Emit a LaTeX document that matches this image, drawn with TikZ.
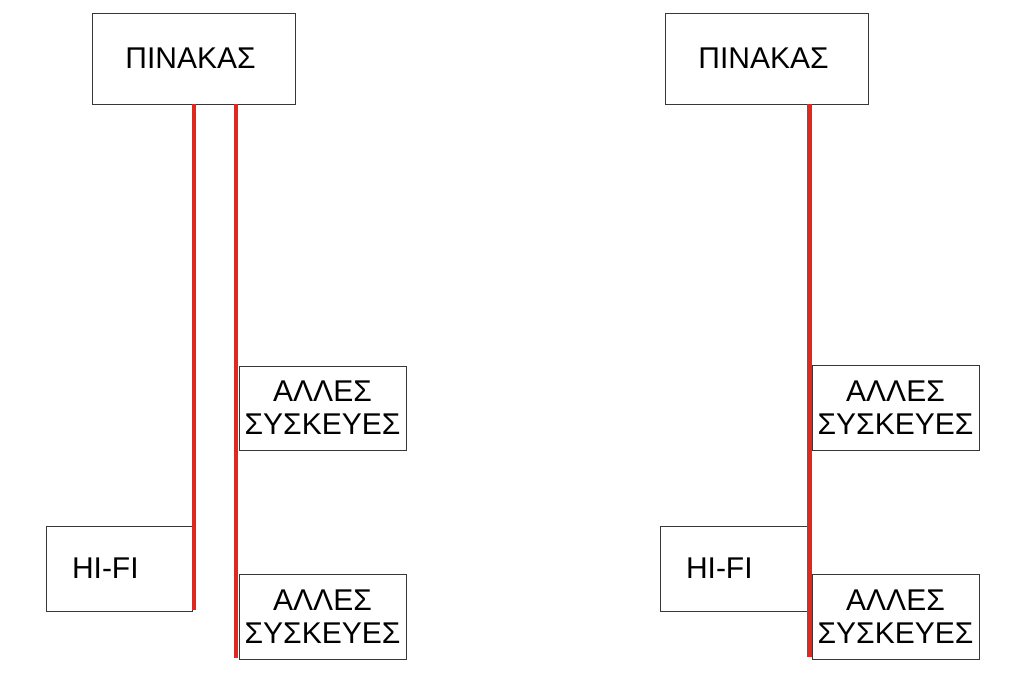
\documentclass[tikz,border=0pt]{standalone}
\usepackage{fontspec}
\setmainfont{Liberation Sans}
\usetikzlibrary{calc}

\definecolor{wirered}{RGB}{222,41,30}

\begin{document}
\begin{tikzpicture}[x=1pt,y=-1pt,
    box/.style={draw=black!78, line width=0.9pt, inner sep=0pt, align=center,
        font=\fontsize{30}{33}\selectfont},
    wire/.style={draw=wirered, line width=4.4pt}]
    \useasboundingbox (0,0) rectangle (1026,675);
    % left
    \node[box, minimum width=203pt, minimum height=91pt] (pinL) at (193.5,58.5) {ΠΙΝΑΚΑΣ\hspace*{6pt}};
    \node[box, minimum width=167pt, minimum height=84pt] (allL1) at (322.5,408) {ΑΛΛΕΣ\\ΣΥΣΚΕΥΕΣ};
    \node[box, minimum width=167pt, minimum height=85pt] (allL2) at (322.5,616.5) {ΑΛΛΕΣ\\ΣΥΣΚΕΥΕΣ};
    \node[box, minimum width=146pt, minimum height=85pt, text width=94pt, inner xsep=26pt, align=left] (hifiL) at (119,568.5) {HI-FI};
    \draw[wire] ([xshift=1.5pt]pinL.south -| hifiL.east) -- ([xshift=1.5pt,yshift=1pt]hifiL.south east);
    \draw[wire] ([xshift=-2.5pt]pinL.south -| allL2.west) -- ([xshift=-2.5pt,yshift=1pt]allL2.south west);
    % right
    \node[box, minimum width=203pt, minimum height=91pt] (pinR) at (766.5,58.5) {ΠΙΝΑΚΑΣ\hspace*{6pt}};
    \node[box, minimum width=167pt, minimum height=85pt] (allR1) at (895.5,407.5) {ΑΛΛΕΣ\\ΣΥΣΚΕΥΕΣ};
    \node[box, minimum width=167pt, minimum height=85pt] (allR2) at (895.5,616.5) {ΑΛΛΕΣ\\ΣΥΣΚΕΥΕΣ};
    \node[box, minimum width=147pt, minimum height=85pt, text width=95pt, inner xsep=26pt, align=left] (hifiR) at (733.5,568.5) {HI-FI};
    \draw[wire] ([xshift=-2pt]pinR.south -| allR2.west) -- ([xshift=-2pt,yshift=2pt]allR2.south west);
\end{tikzpicture}
\end{document}
